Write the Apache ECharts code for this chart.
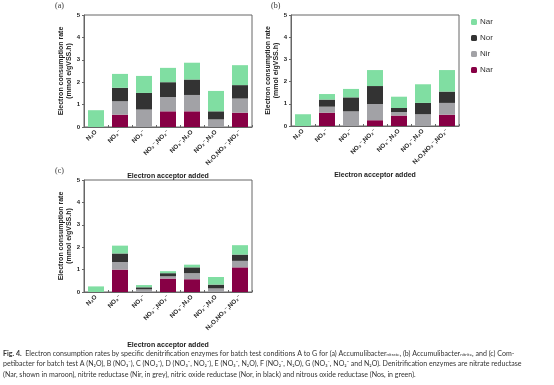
<!DOCTYPE html>
<html><head><meta charset="utf-8">
<script src="https://cdn.jsdelivr.net/npm/echarts@6/dist/echarts.min.js"></script>
<style>html,body{margin:0;padding:0;background:#fff}#c{width:554px;height:385px}</style>
</head><body><div id="c"></div>
<script>
const categories = ['N₂O', 'NO₃⁻', 'NO₂⁻', 'NO₃⁻,NO₂⁻', 'NO₃⁻,N₂O', 'NO₂⁻,N₂O', 'N₂O,NO₃⁻,NO₂⁻'];
const yTicks = [0, 1, 2, 3, 4, 5];
// Panel (a) Accumulibacter nitrate
const aNar = [0, 0.55, 0, 0.70, 0.70, 0, 0.64];
const aNir = [0, 0.60, 0.78, 0.64, 0.73, 0.34, 0.63];
const aNor = [0, 0.60, 0.74, 0.66, 0.69, 0.36, 0.60];
const aNos = [0.75, 0.62, 0.76, 0.64, 0.75, 0.91, 0.89];
// Panel (b) Accumulibacter nitrite
const bNar = [0, 0.60, 0, 0.26, 0.47, 0, 0.51];
const bNir = [0, 0.27, 0.66, 0.73, 0.16, 0.53, 0.53];
const bNor = [0, 0.32, 0.63, 0.81, 0.18, 0.51, 0.51];
const bNos = [0.53, 0.25, 0.38, 0.72, 0.51, 0.84, 0.97];
// Panel (c) Competibacter
const cNar = [0, 1.00, 0, 0.60, 0.57, 0, 1.10];
const cNir = [0, 0.34, 0.12, 0.10, 0.27, 0.16, 0.29];
const cNor = [0, 0.38, 0.09, 0.14, 0.26, 0.17, 0.28];
const cNos = [0.25, 0.35, 0.10, 0.09, 0.12, 0.34, 0.42];
const legendNames = ['Nos', 'Nor', 'Nir', 'Nar'];
const legendLabels = {Nos: 'Nar', Nor: 'Nor', Nir: 'Nir', Nar: 'Nar'};

const COL = {Nar: '#870045', Nir: '#a2a2a6', Nor: '#333333', Nos: '#80dea2'};
const FONT = 'Liberation Sans, DejaVu Sans, sans-serif';

const grids = [
  {left: 84, top: 15, width: 168, height: 112},
  {left: 291, top: 15, width: 168, height: 111},
  {left: 84, top: 180, width: 168, height: 112}
].map(g => Object.assign(g, {show: true, borderColor: '#666', borderWidth: 1, backgroundColor: 'transparent'}));

const xAxes = [0, 1, 2].map(i => ({
  type: 'category', gridIndex: i, data: categories,
  name: 'Electron acceptor added', nameLocation: 'middle', nameGap: i === 2 ? 50 : 46,
  nameTextStyle: {fontFamily: FONT, fontWeight: 'bold', fontSize: 7, color: '#222'},
  axisLine: {lineStyle: {color: '#666'}},
  axisTick: {show: true, inside: true, length: 2, lineStyle: {color: '#666'}},
  axisLabel: {rotate: 45, interval: 0, fontFamily: FONT, fontWeight: 'bold', fontSize: 6.3, color: '#222', margin: 4}
}));
const yAxes = [0, 1, 2].map(i => ({
  type: 'value', gridIndex: i, min: yTicks[0], max: yTicks[yTicks.length - 1], interval: 1,
  name: 'Electron consumption rate\n(mmol e/gVSS.h)', nameLocation: 'middle', nameGap: 9, nameRotate: 90,
  nameTextStyle: {fontFamily: FONT, fontWeight: 'bold', fontSize: 7, color: '#222', lineHeight: 8},
  axisLine: {show: true, lineStyle: {color: '#666'}},
  axisTick: {show: true, length: 2, lineStyle: {color: '#666'}},
  splitLine: {show: false},
  axisLabel: {fontFamily: FONT, fontWeight: 'bold', fontSize: 6, color: '#222', margin: 4}
}));

const panels = [
  {Nar: aNar, Nir: aNir, Nor: aNor, Nos: aNos},
  {Nar: bNar, Nir: bNir, Nor: bNor, Nos: bNos},
  {Nar: cNar, Nir: cNir, Nor: cNor, Nos: cNos}
];
const series = [];
panels.forEach((p, i) => {
  ['Nar', 'Nir', 'Nor', 'Nos'].forEach(k => {
    series.push({
      name: k, type: 'bar', stack: 's' + i, xAxisIndex: i, yAxisIndex: i,
      data: p[k], barWidth: 16, itemStyle: {color: COL[k]}
    });
  });
});

const CF = 'Lato, Liberation Sans, sans-serif';
const CS = 7.05;
const capStyle = {fontFamily: CF, fontSize: CS, fill: '#333'};
const capRich = {
  b: {fontWeight: 'bold', fontSize: CS, fontFamily: CF, color: '#333'},
  s: {fontSize: 4.5, fontFamily: CF, color: '#333', verticalAlign: 'bottom'}
};
const capLines = [
  '{b|Fig. 4.}  Electron consumption rates by specific denitrification enzymes for batch test conditions A to G for (a) Accumulibacter{s|nitrate}, (b) Accumulibacter{s|nitrite}, and (c) Com-',
  'petibacter for batch test A (N₂O), B (NO₃⁻), C (NO₂⁻), D (NO₃⁻, NO₂⁻), E (NO₃⁻, N₂O), F (NO₂⁻, N₂O), G (NO₃⁻, NO₂⁻ and N₂O). Denitrification enzymes are nitrate reductase',
  '(Nar, shown in maroon), nitrite reductase (Nir, in grey), nitric oxide reductase (Nor, in black) and nitrous oxide reductase (Nos, in green).'
];
const capY = [354, 364.5, 375];

const graphic = [
  {type: 'text', left: 55, top: 2, style: {text: '(a)', fontFamily: 'Liberation Serif, serif', fontSize: 8, fill: '#333'}},
  {type: 'text', left: 271, top: 2, style: {text: '(b)', fontFamily: 'Liberation Serif, serif', fontSize: 8, fill: '#333'}},
  {type: 'text', left: 55, top: 167, style: {text: '(c)', fontFamily: 'Liberation Serif, serif', fontSize: 8, fill: '#333'}}
];
capLines.forEach((t, i) => {
  graphic.push({type: 'text', left: 3, top: capY[i] - 4, style: Object.assign({text: t, rich: capRich}, capStyle)});
});

const chart = echarts.init(document.getElementById('c'), null, {renderer: 'canvas'});
chart.setOption({
  animation: false,
  grid: grids, xAxis: xAxes, yAxis: yAxes, series: series,
  legend: {
    data: legendNames, orient: 'vertical', left: 466, top: 13, itemWidth: 6, itemHeight: 6, itemGap: 8,
    formatter: n => legendLabels[n],
    textStyle: {fontFamily: FONT, fontSize: 8, color: '#333', padding: [0, 0, 0, -2]}
  },
  graphic: graphic
});
</script></body></html>
